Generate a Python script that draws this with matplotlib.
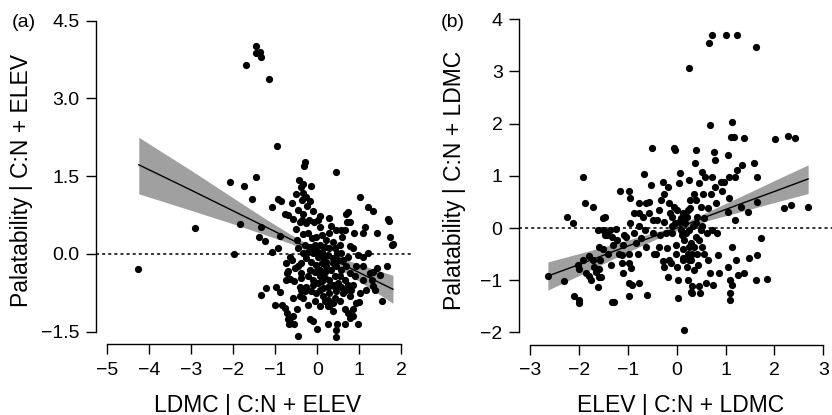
import numpy as np
import matplotlib.pyplot as plt

plt.rcParams['font.family'] = ['Liberation Sans', 'DejaVu Sans']

# (a) LDMC | C:N + ELEV  vs  Palatability | C:N + ELEV   (x, y)
pts_a = [
    (-4.26, -0.29), (-2.91, 0.50), (-1.98, 0.00), (-2.09, 1.39), (-1.85, 0.57), (-1.74, 1.32),
    (-1.69, 3.64), (-1.45, 4.02), (-1.45, 3.88), (-1.36, 3.90), (-1.34, 3.79), (-1.15, 3.38),
    (-0.95, 2.08), (-1.46, 1.48), (-1.56, 1.06), (-1.34, 0.52), (-1.40, 0.32), (-1.25, 0.25),
    (-1.33, -0.80), (-1.22, -0.65), (-1.07, 0.91), (-0.94, 1.06), (-0.86, 1.02), (-1.07, 0.03),
    (-0.93, 0.11), (-0.90, 0.34), (-0.99, -0.64), (-0.90, -0.73), (-1.01, -0.98), (-0.84, -0.98),
    (-0.78, -1.04), (-0.72, -1.14), (-0.69, -1.26), (-0.68, -1.36), (-0.64, -1.32), (-0.58, -1.20),
    (-0.76, 0.78), (-0.69, 0.75), (-0.60, 0.98), (-0.58, 0.68), (-0.50, 1.16), (-0.74, -0.50),
    (-0.65, -0.49), (-0.69, -0.32), (-0.60, -0.11), (-0.54, -0.27), (-0.56, -0.53), (-0.58, -0.85),
    (-0.56, -1.36), (-0.46, -1.58), (-0.48, -1.07), (-0.42, -0.64), (-0.40, -0.37), (-0.45, 0.11),
    (-0.48, 0.27), (-0.50, 0.48), (-0.42, 0.62), (-0.45, 0.84), (-0.44, 1.42), (-0.38, 1.29),
    (-0.34, 1.35), (-0.32, 1.69), (-0.30, 1.77), (-0.33, 1.18), (-0.28, 1.10), (-0.37, 1.05),
    (-0.24, 0.92), (-0.14, 1.32), (-0.17, 1.03), (-0.10, 0.83), (-0.34, 0.78), (-0.36, 0.66),
    (-0.28, 0.59), (-0.20, 0.65), (-0.07, 0.62), (0.02, 0.65), (0.06, 0.73), (0.07, 0.52),
    (-0.33, 0.38), (-0.22, 0.40), (-0.13, 0.30), (-0.02, 0.33), (0.11, 0.36), (0.20, 0.27),
    (0.29, 0.70), (0.33, 0.54), (0.29, 0.40), (0.45, 1.58), (0.45, 0.46), (0.56, 0.46),
    (0.65, 0.46), (0.69, 0.78), (0.74, 0.81), (0.71, 0.62), (0.77, 0.62), (0.59, 0.32),
    (0.77, 0.15), (0.84, 0.11), (0.87, 0.40), (1.01, 1.10), (1.13, 0.52), (1.21, 0.91),
    (1.33, 0.83), (1.43, 0.41), (1.09, 0.40), (0.97, -0.02), (0.53, 0.17), (0.47, 0.01),
    (0.57, 0.01), (1.69, 0.68), (1.71, 0.64), (1.74, 0.32), (1.77, 0.17), (1.81, 0.19),
    (1.66, -0.23), (1.55, -0.91), (0.93, -0.24), (1.09, -0.24), (1.25, -0.36), (1.33, -0.34),
    (1.29, -0.50), (1.33, -0.61), (1.17, -0.69), (1.37, -0.69), (1.09, -0.50), (0.89, -0.43),
    (0.85, -0.59), (1.01, -0.75), (0.93, -0.95), (0.99, -0.93), (0.85, -1.07), (0.73, -1.14),
    (0.85, -1.20), (0.97, -1.36), (0.77, -1.23), (0.65, -1.07), (0.65, -1.36), (0.47, -1.36),
    (0.44, -1.46), (0.44, -1.60), (0.25, -1.36), (-0.01, -1.44), (-0.10, -1.30), (-0.18, -1.26),
    (0.37, -1.10), (0.25, -1.01), (0.06, -1.01), (-0.06, -0.91), (-0.22, -0.98), (-0.33, -0.85),
    (-0.30, -0.72), (-0.14, -0.72), (-0.02, -0.75), (0.14, -0.82), (0.29, -0.75), (0.41, -0.85),
    (0.53, -0.91), (0.61, -0.75), (0.69, -0.69), (0.57, -0.63), (0.41, -0.63), (0.25, -0.63),
    (0.14, -0.66), (0.02, -0.56), (-0.10, -0.50), (-0.22, -0.43), (-0.18, -0.31), (-0.06, -0.34),
    (0.06, -0.43), (0.18, -0.47), (0.29, -0.50), (0.41, -0.43), (0.53, -0.43), (0.65, -0.50),
    (0.77, -0.37), (0.69, -0.24), (0.57, -0.31), (0.45, -0.24), (0.33, -0.31), (0.21, -0.24),
    (0.10, -0.18), (-0.02, -0.21), (-0.14, -0.15), (-0.26, -0.08), (-0.34, 0.01), (-0.22, 0.04),
    (-0.10, 0.01), (0.02, -0.05), (0.14, -0.05), (0.25, -0.02), (0.37, -0.08), (0.49, -0.11),
    (0.61, -0.11), (0.73, -0.05), (0.29, 0.11), (0.18, 0.14), (0.06, 0.17), (-0.06, 0.17),
    (-0.18, 0.14), (-0.30, 0.17), (0.41, 0.11), (0.37, 0.24), (0.10, 0.04), (-0.02, 0.08),
    (0.21, -0.15), (0.37, -0.18), (0.06, -0.31), (0.18, -0.34), (-0.10, -0.59), (0.06, -0.69),
    (0.25, -0.88), (0.37, -0.95), (0.29, -1.01), (0.18, -0.91), (0.45, -0.72), (0.49, -0.56),
    (0.73, -0.59), (0.77, -0.82), (0.81, -0.69), (0.37, -0.59), (0.10, -0.53), (-0.26, -0.63),
    (-0.38, -0.69), (-0.42, -0.82), (-0.46, -0.24), (-0.38, -0.17), (-0.38, -0.47), (-0.66, -0.05),
    (-0.74, -0.18), (-0.72, -0.37), (1.09, -0.05), (1.21, 0.01), (1.41, -0.27), (1.49, -0.40),
]

# (b) ELEV | C:N + LDMC  vs  Palatability | C:N + LDMC
pts_b = [
    (-2.64, -0.92), (-2.32, -1.02), (-2.24, 0.22), (-2.13, 0.10), (-2.10, -1.30), (-2.01, -1.38),
    (-2.00, -1.44), (-2.02, -0.71), (-2.00, -0.79), (-1.93, 0.98), (-1.89, 0.47), (-1.79, -0.54),
    (-1.85, -0.86), (-1.72, -0.61), (-1.72, 0.41), (-1.79, -0.92), (-1.76, -1.00), (-1.70, -0.74),
    (-1.66, -0.84), (-1.62, -0.04), (-1.61, -1.14), (-1.60, -0.93), (-1.59, -0.79), (-1.57, -0.61),
    (-1.55, -0.93), (-1.52, -0.41), (-1.52, 0.19), (-1.48, 0.22), (-1.47, -0.13), (-1.40, -0.49),
    (-1.37, -0.04), (-1.32, -0.17), (-1.30, -0.33), (-1.35, -0.71), (-1.33, -1.41), (-1.28, -1.41),
    (-1.25, -0.01), (-1.23, -0.23), (-1.16, 0.70), (-1.12, -0.52), (-1.12, -0.68), (-1.11, -0.87),
    (-1.08, -0.13), (-1.04, -0.17), (-0.97, 0.70), (-0.96, 0.57), (-0.95, 0.09), (-0.97, -0.49),
    (-0.97, -0.68), (-0.94, -0.77), (-0.97, -1.06), (-0.91, -1.09), (-0.97, -1.30), (-0.87, 0.28),
    (-0.84, -0.29), (-0.80, -0.49), (-0.78, 0.47), (-0.77, 0.28), (-0.77, -1.05), (-0.74, -0.20),
    (-0.70, 0.22), (-0.67, 1.03), (-0.65, -0.04), (-0.63, -0.36), (-0.60, -1.28), (-0.57, 0.49),
    (-0.57, 0.28), (-0.53, 0.82), (-0.50, 1.53), (-0.48, -0.10), (-0.46, -0.49), (-0.43, -0.49),
    (-0.40, 0.15), (-0.37, 0.34), (-0.35, -0.13), (-0.33, 0.54), (-0.29, 0.89), (-0.28, -0.63),
    (-0.26, 0.66), (-0.26, 0.12), (-0.22, -0.10), (-0.21, -0.39), (-0.19, -0.93), (-0.17, 0.79),
    (-0.16, 0.47), (-0.14, 0.28), (-0.12, -0.68), (-0.10, 0.03), (-0.09, -0.10), (-0.05, 1.53),
    (-0.03, 1.49), (-0.05, 0.41), (-0.03, 0.09), (-0.02, -0.33), (-0.01, -0.49), (0.01, -0.74),
    (0.02, -1.00), (0.03, -1.35), (0.05, 0.86), (0.06, 1.05), (0.08, 0.19), (0.08, -0.04),
    (0.10, -0.13), (0.12, 0.28), (0.12, -0.41), (0.13, -0.58), (0.15, -1.95), (0.17, 0.09),
    (0.18, -0.10), (0.20, 0.22), (0.22, -0.49), (0.22, -1.00), (0.24, 3.06), (0.25, 0.92),
    (0.27, 0.54), (0.27, 0.38), (0.29, -0.29), (0.29, -1.22), (0.30, -0.61), (0.31, -1.12),
    (0.32, -1.25), (0.33, 0.03), (0.35, 0.66), (0.37, 1.24), (0.39, 1.49), (0.39, -0.17),
    (0.40, 0.54), (0.42, 0.22), (0.42, -0.49), (0.44, -0.71), (0.46, 0.86), (0.46, -1.12),
    (0.47, -1.25), (0.49, -0.04), (0.49, 0.41), (0.51, 1.08), (0.52, -0.36), (0.54, 0.66),
    (0.56, -0.49), (0.56, 0.19), (0.58, 0.98), (0.59, -1.06), (0.61, -0.10), (0.63, 0.38),
    (0.64, -0.61), (0.66, 3.54), (0.67, 1.97), (0.68, -0.87), (0.70, 0.66), (0.72, 3.70),
    (0.72, -0.04), (0.73, 0.98), (0.75, -1.09), (0.76, 1.46), (0.78, 1.30), (0.78, 0.79),
    (0.80, 0.47), (0.83, -0.10), (0.85, -0.52), (0.87, -0.87), (0.90, 0.89), (0.93, 0.70),
    (0.97, 0.89), (1.00, 3.70), (1.04, 1.40), (1.04, 0.31), (1.04, -0.74), (1.07, 0.98),
    (1.07, 0.57), (1.09, -1.00), (1.09, -1.25), (1.09, -1.38), (1.10, 1.75), (1.14, 2.04),
    (1.14, -0.36), (1.14, -1.09), (1.17, 1.75), (1.19, 0.98), (1.19, 0.15), (1.21, -0.61),
    (1.24, 3.70), (1.24, 1.11), (1.26, -0.90), (1.31, 0.41), (1.34, 1.21), (1.38, 1.72),
    (1.38, -0.87), (1.45, 0.31), (1.47, -0.58), (1.58, 1.24), (1.62, 3.47), (1.62, -1.00),
    (1.65, 0.98), (1.65, 0.50), (1.65, -0.52), (1.72, -0.20), (1.85, -0.98), (2.01, 1.70),
    (2.19, 0.38), (2.28, 1.76), (2.33, 0.44), (2.43, 1.73), (2.69, 0.41),
    (-0.09, 0.22), (0.01, 0.34), (0.05, 0.12), (0.15, -0.23), (0.24, -0.36), (0.32, -0.49),
    (0.35, -0.36), (0.25, -0.04), (0.39, 0.09), (0.22, 0.34), (0.52, 0.03), (0.46, -0.23),
    (0.12, -0.61), (0.20, -0.74), (0.35, -0.80), (0.25, -0.61), (-0.16, -0.61), (-0.26, -0.74),
    (-0.36, -0.36), (-0.48, 0.15), (-0.63, 0.47), (-0.77, 0.03), (-0.87, -0.10), (-1.10, -0.33),
    (-1.18, -0.49), (-1.52, -0.04), (-1.42, -0.13), (-1.59, -0.36), (-1.93, -0.61),
]

# fitted line and 95% band at a few x positions
band_a_x = [-4.25, -3.0, -2.0, -1.2, -0.6, -0.15, 0.4, 1.0, 1.8]
band_a_fit = [1.72, 1.23, 0.83, 0.51, 0.27, 0.09, -0.12, -0.36, -0.68]
band_a_lo = [1.16, 0.84, 0.58, 0.36, 0.19, 0.03, -0.22, -0.53, -0.95]
band_a_hi = [2.25, 1.61, 1.08, 0.66, 0.36, 0.15, -0.03, -0.20, -0.41]

band_b_x = [-2.64, -2.0, -1.3, -0.7, -0.25, 0.2, 0.7, 1.3, 2.0, 2.69]
band_b_fit = [-0.92, -0.70, -0.45, -0.24, -0.09, 0.07, 0.25, 0.46, 0.70, 0.94]
band_b_lo = [-1.19, -0.91, -0.59, -0.33, -0.14, 0.02, 0.16, 0.31, 0.49, 0.66]
band_b_hi = [-0.65, -0.49, -0.31, -0.15, -0.03, 0.12, 0.34, 0.60, 0.91, 1.21]

xlabels = ['LDMC | C:N + ELEV', 'ELEV | C:N + LDMC']
ylabels = ['Palatability | C:N + ELEV', 'Palatability | C:N + LDMC']
panel_tags = ['(a)', '(b)']
xticks_a = [-5, -4, -3, -2, -1, 0, 1, 2]
yticks_a = [-1.5, 0.0, 1.5, 3.0, 4.5]
xticks_b = [-3, -2, -1, 0, 1, 2, 3]
yticks_b = [-2, -1, 0, 1, 2, 3, 4]


def avplot(ax, pts, bx, bfit, blo, bhi, xticks, yticks, xlim, ylim):
    x, y = np.array(pts).T
    ax.fill_between(bx, blo, bhi, color='#a0a0a0', lw=0, zorder=1)
    ax.plot(bx, bfit, color='black', lw=1.0, zorder=3)
    ax.axhline(0, color='black', lw=1.1, ls=(0, (2, 2)), zorder=2)
    ax.plot(x, y, 'o', color='black', ms=5.2, mec='none', zorder=4)

    ax.set_xlim(xlim)
    ax.set_ylim(ylim)
    ax.set_xticks(xticks)
    ax.set_yticks(yticks)
    for side in ['top', 'right']:
        ax.spines[side].set_visible(False)
    ax.spines['bottom'].set_bounds(xticks[0], xticks[-1])
    ax.spines['left'].set_bounds(yticks[0], yticks[-1])
    for side in ['bottom', 'left']:
        ax.spines[side].set_linewidth(1.0)
    ax.tick_params(direction='out', length=7.5, width=1.0, labelsize=14)
    ax.tick_params(axis='x', pad=5)
    ax.tick_params(axis='y', pad=4)
    ax.set_facecolor('none')


fig = plt.figure(figsize=(8.32, 4.15), dpi=100)
ax_a = fig.add_axes([0.1148, 0.1706, 0.3817, 0.8096])
ax_b = fig.add_axes([0.6233, 0.1689, 0.3803, 0.8149])

avplot(ax_a, pts_a, band_a_x, band_a_fit, band_a_lo, band_a_hi,
       xticks_a, yticks_a, (-5.28, 2.28), (-1.74, 4.74))
avplot(ax_b, pts_b, band_b_x, band_b_fit, band_b_lo, band_b_hi,
       xticks_b, yticks_b, (-3.24, 3.24), (-2.24, 4.24))

# labels placed as in the source (R base graphics look)
fig.text(258 / 832, 1 - 411.5 / 415, xlabels[0], ha='center', va='baseline', fontsize=16.5)
fig.text(681 / 832, 1 - 411.5 / 415, xlabels[1], ha='center', va='baseline', fontsize=16.5)
fig.text(22 / 832, 1 - 180.5 / 415, ylabels[0], rotation=90, ha='center', va='center', fontsize=16.5)
fig.text(455 / 832, 1 - 180 / 415, ylabels[1], rotation=90, ha='center', va='center', fontsize=16.5)
fig.text(12 / 832, 1 - 27 / 415, panel_tags[0], ha='left', va='baseline', fontsize=14)
fig.text(441 / 832, 1 - 27 / 415, panel_tags[1], ha='left', va='baseline', fontsize=14)

fig.savefig('out.png', dpi=100)
